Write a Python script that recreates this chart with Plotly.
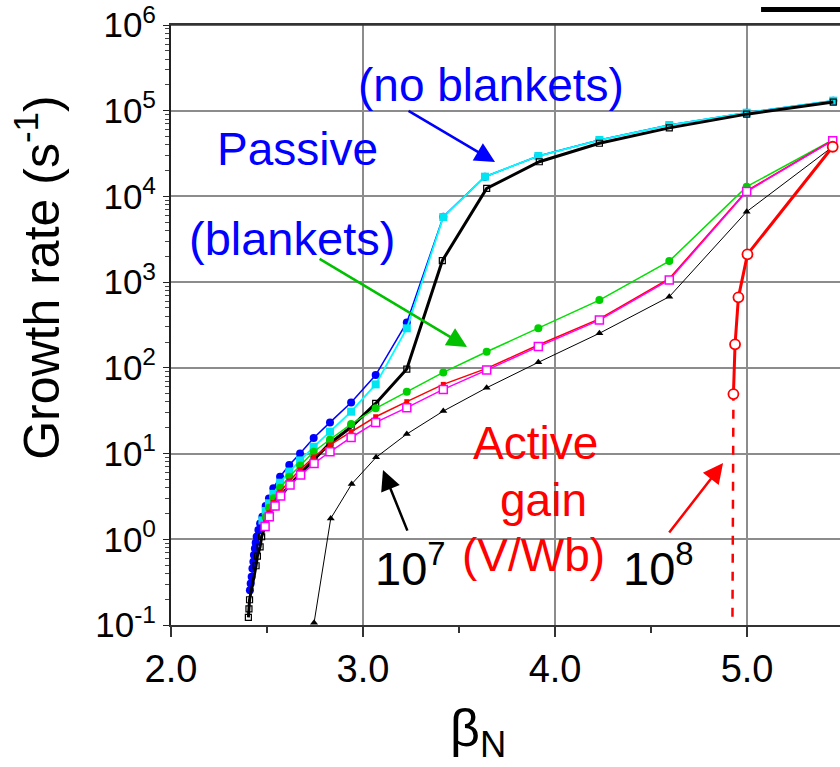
import plotly.graph_objects as go

# ---------------- data ----------------
beta_blue = [2.411, 2.415, 2.420, 2.424, 2.429, 2.432, 2.437, 2.441, 2.446, 2.455, 2.464, 2.476,
             2.493, 2.510, 2.533, 2.568, 2.616, 2.672, 2.743, 2.828, 2.938, 3.066, 3.228,
             3.418, 3.635, 3.913, 4.231, 4.595, 4.998, 5.449]
gr_blue = [0.255, 0.305, 0.366, 0.457, 0.547, 0.655, 0.783, 0.910, 1.07, 1.28, 1.53, 1.83,
           2.44, 3.0, 3.93, 5.36, 7.35, 10.0, 15.2, 23.1, 39.5, 82.4, 339,
           5790, 17000, 29600, 45500, 68100, 94800, 131000]

beta_cyan = [2.476, 2.493, 2.510, 2.533, 2.568, 2.616, 2.672, 2.743, 2.828, 2.938, 3.066, 3.228,
             3.418, 3.635, 3.913, 4.231, 4.595, 4.998, 5.449]
gr_cyan = [1.66, 2.14, 2.63, 3.39, 4.57, 6.17, 8.32, 12.0, 18.0, 30.8, 64.1, 289,
           5750, 17000, 29600, 45500, 68100, 94800, 131000]

beta_blk = [2.403, 2.406, 2.409, 2.443, 2.450, 2.464, 2.472, 2.490, 2.510, 2.535, 2.570, 2.620,
            2.675, 2.745, 2.828, 2.938, 3.066, 3.228, 3.413, 3.644, 3.918, 4.231, 4.595, 4.998, 5.449]
gr_blk = [0.123, 0.154, 0.197, 0.491, 0.637, 0.817, 1.07, 1.41, 1.82, 2.40, 3.16, 4.37,
          5.89, 8.51, 13.2, 20.4, 38.5, 96.8, 1780, 12400, 25400, 41700, 63100, 91200, 126000]

beta_green = [2.493, 2.510, 2.533, 2.568, 2.616, 2.672, 2.743, 2.828, 2.938, 3.066, 3.228,
              3.418, 3.644, 3.913, 4.231, 4.595, 4.998, 5.446]
gr_green = [1.82, 2.34, 3.02, 3.98, 5.37, 7.24, 10.5, 14.6, 22.1, 33.7, 52.7,
            88.5, 154, 289, 618, 1760, 13000, 45500]

beta_red = [2.493, 2.510, 2.533, 2.568, 2.616, 2.672, 2.743, 2.828, 2.938, 3.066, 3.228,
            3.418, 3.644, 3.913, 4.231, 4.595, 4.998, 5.446]
gr_red = [1.58, 2.04, 2.69, 3.55, 4.79, 6.46, 9.12, 12.6, 17.9, 26.9, 40.3,
          64.1, 98.6, 185, 372, 1100, 11600, 45200]

beta_mag = [2.490, 2.512, 2.542, 2.571, 2.620, 2.675, 2.745, 2.828, 2.938, 3.066, 3.228,
            3.418, 3.644, 3.913, 4.231, 4.595, 4.998, 5.446]
gr_mag = [1.41, 1.83, 2.44, 3.19, 4.29, 5.61, 7.67, 10.5, 15.4, 23.1, 34.3,
          56.0, 94.2, 177, 361, 1060, 11400, 44700]

beta_g7 = [2.745, 2.832, 2.941, 3.068, 3.228, 3.418, 3.644, 3.913, 4.231, 4.595, 4.998, 5.446]
gr_g7 = [0.106, 1.75, 4.41, 9.04, 16.9, 31.3, 58.6, 116, 253, 676, 6640, 38000]

beta_g8 = [4.929, 4.9375, 4.955, 5.002, 5.446]
gr_g8 = [49.4, 188, 665, 2110, 38000]

beta_g8_dash = [4.924, 4.929]
gr_g8_dash = [0.125, 49.4]

ytick_vals = [0.1, 1, 10, 100, 1000, 10000, 100000, 1000000]
ytick_text = ["10<sup>-1</sup>", "10<sup>0</sup>", "10<sup>1</sup>", "10<sup>2</sup>",
              "10<sup>3</sup>", "10<sup>4</sup>", "10<sup>5</sup>", "10<sup>6</sup>"]
xtick_vals = [2.0, 3.0, 4.0, 5.0]
xtick_text = ["2.0", "3.0", "4.0", "5.0"]

FONT = "Liberation Sans, Arial, sans-serif"

fig = go.Figure()

fig.add_trace(go.Scatter(x=beta_blue, y=gr_blue, mode="lines+markers",
                         line=dict(color="#0000FF", width=1.5),
                         marker=dict(symbol="circle", size=8, color="#0000FF")))
fig.add_trace(go.Scatter(x=beta_cyan, y=gr_cyan, mode="lines+markers",
                         line=dict(color="#00FFFF", width=1.8),
                         marker=dict(symbol="square", size=8, color="#00E5F0")))
fig.add_trace(go.Scatter(x=beta_blk, y=gr_blk, mode="lines+markers",
                         line=dict(color="#000000", width=3),
                         marker=dict(symbol="square-open", size=6, color="#000000",
                                     line=dict(width=1.2))))
fig.add_trace(go.Scatter(x=beta_green, y=gr_green, mode="lines+markers",
                         line=dict(color="#00E000", width=1.5),
                         marker=dict(symbol="circle", size=8, color="#00D000")))
fig.add_trace(go.Scatter(x=beta_red, y=gr_red, mode="lines+markers",
                         line=dict(color="#FF0000", width=1.5),
                         marker=dict(symbol="square", size=5, color="#FF0000")))
fig.add_trace(go.Scatter(x=beta_mag, y=gr_mag, mode="lines+markers",
                         line=dict(color="#FF00FF", width=1.5),
                         marker=dict(symbol="square", size=8, color="white",
                                     line=dict(color="#FF00FF", width=1.5))))
fig.add_trace(go.Scatter(x=beta_g7, y=gr_g7, mode="lines+markers",
                         line=dict(color="#000000", width=1),
                         marker=dict(symbol="triangle-up", size=7, color="#000000"),
                         cliponaxis=False))
fig.add_trace(go.Scatter(x=beta_g8_dash, y=gr_g8_dash, mode="lines",
                         line=dict(color="#FF0000", width=2.5, dash="dash")))
fig.add_trace(go.Scatter(x=beta_g8, y=gr_g8, mode="lines+markers",
                         line=dict(color="#FF0000", width=3),
                         marker=dict(symbol="circle", size=10, color="white",
                                     line=dict(color="#FF0000", width=1.8))))

ann = []
def txt(x, ylog, text, color, size):
    ann.append(dict(x=x, y=ylog, xref="x", yref="y", text=text, showarrow=False,
                    font=dict(family=FONT, size=size, color=color),
                    xanchor="center", yanchor="middle"))

txt(3.667, 5.30, "(no blankets)", "#0000FF", 46)
txt(2.66, 4.553, "Passive", "#0000FF", 46)
txt(2.63, 3.515, "(blankets)", "#0000FF", 47)
txt(3.90, 1.123, "Active", "#FF0000", 46)
txt(3.94, 0.457, "gain", "#FF0000", 46)
txt(3.89, -0.184, "(V/Wb)", "#FF0000", 46)
txt(3.245, -0.30, "10<sup>7</sup>", "#000000", 47)
txt(4.54, -0.30, "10<sup>8</sup>", "#000000", 47)

def arrow(x, ylog, ax, ay, color):
    ann.append(dict(x=x, y=ylog, xref="x", yref="y", ax=ax, ay=ay, text="",
                    showarrow=True, arrowhead=2, arrowsize=1.6, arrowwidth=2.5,
                    arrowcolor=color))

arrow(3.6875, 4.401, -88, -52, "#0000FF")
arrow(3.542, 2.243, -149, -89, "#00C000")
arrow(3.104, 0.807, 25, 62, "#000000")
arrow(4.875, 0.889, -55, 71, "#FF0000")

# axis titles
ann.append(dict(x=-0.199, y=0.58, xref="paper", yref="paper", text="Growth rate (s<sup>-1</sup>)",
                textangle=-90, showarrow=False, font=dict(family=FONT, size=50, color="black"),
                xanchor="center", yanchor="middle"))
ann.append(dict(x=0.459, y=-0.178, xref="paper", yref="paper", text="β<sub>N</sub>",
                showarrow=False, font=dict(family=FONT, size=52, color="black"),
                xanchor="center", yanchor="middle"))

fig.update_layout(
    width=840, height=767,
    margin=dict(l=171, r=0, t=25, b=142, autoexpand=False),
    plot_bgcolor="white", paper_bgcolor="white",
    showlegend=False,
    annotations=ann,
    shapes=[
        dict(type="line", xref="paper", yref="paper", x0=0.882, x1=1.01,
             y0=1.026, y1=1.026, line=dict(color="black", width=5)),
        dict(type="line", xref="paper", yref="paper", x0=0, x1=1.01,
             y0=1, y1=1, line=dict(color="#333333", width=1.5)),
    ],
)

fig.update_xaxes(range=[2.0, 5.484], tickvals=xtick_vals, ticktext=xtick_text,
                 automargin=False,
                 showgrid=True, gridcolor="#8c8c8c", gridwidth=1.5,
                 showline=True, linecolor="#333333", linewidth=1.5, mirror=True,
                 ticks="outside", ticklen=10, tickcolor="#333333", tickwidth=1.5,
                 minor=dict(tickvals=[2.5, 3.5, 4.5, 5.5], ticks="outside", ticklen=6,
                            tickcolor="#333333", showgrid=False),
                 tickfont=dict(family=FONT, size=38, color="black"),
                 zeroline=False)
fig.update_yaxes(type="log", range=[-1, 6], tickvals=ytick_vals, ticktext=ytick_text,
                 automargin=False, ticklabeloverflow="allow",
                 showgrid=True, gridcolor="#8c8c8c", gridwidth=1.5,
                 showline=True, linecolor="#222222", linewidth=2,
                 ticks="outside", ticklen=6, tickcolor="#222222",
                 minor=dict(tickvals=[m * 10 ** e for e in range(-1, 6) for m in range(2, 10)],
                            ticks="outside", ticklen=4, tickcolor="#444444", showgrid=False),
                 tickfont=dict(family=FONT, size=35, color="black"),
                 zeroline=False)

# remove the default 8 px body margin so the figure fills the window exactly
fig.write_html("out.html", config={"displayModeBar": False},
               post_script="document.body.style.margin='0px';")
